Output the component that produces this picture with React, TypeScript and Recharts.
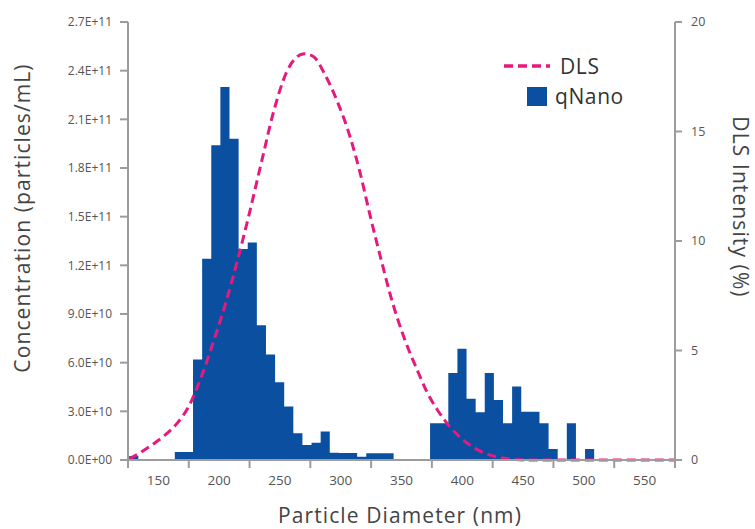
import React from 'react';
import { ComposedChart, Area, Line, XAxis, YAxis, Legend, Label } from 'recharts';

const FONT = '"Open Sans", "DejaVu Sans", sans-serif';
const BLUE = '#0b4fa1';
const PINK = '#e6197f';
const AXIS = '#9c9c9c';

const CHART_W = 755;
const CHART_H = 529;
const LEFT_W = 128;
const RIGHT_W = 80;
const PLOT_W = CHART_W - LEFT_W - RIGHT_W;

// qNano histogram: left edge of each 7.5 nm bin (last entry closes the final bin)
const binEdges = [
  126, 133.5, 141, 148.5, 156, 163.5, 171, 178.5, 186, 193.5, 201, 208.5, 216,
  223.5, 231, 238.5, 246, 253.5, 261, 268.5, 276, 283.5, 291, 298.5, 306, 313.5,
  321, 328.5, 336, 343.5, 351, 358.5, 366, 373.5, 381, 388.5, 396, 403.5, 411,
  418.5, 426, 433.5, 441, 448.5, 456, 463.5, 471, 478.5, 486, 493.5, 501, 508.5,
];

// particles/mL per bin
const qNanoConc = [
  2.5e9, 0, 0, 0, 0, 5e9, 5e9, 6.2e10, 1.24e11, 1.94e11, 2.3e11, 1.98e11, 1.3e11,
  1.34e11, 8.3e10, 6.5e10, 4.8e10, 3.3e10, 1.65e10, 9.3e9, 1.07e10, 1.75e10, 4.5e9,
  4.3e9, 4.3e9, 2e9, 4.1e9, 4.1e9, 4.1e9, 0, 0, 0, 0, 2.27e10, 2.27e10, 5.36e10,
  6.86e10, 3.77e10, 2.95e10, 5.36e10, 3.7e10, 2.27e10, 4.53e10, 2.98e10, 2.98e10,
  2.27e10, 6.8e9, 0, 2.27e10, 0, 6.8e9,
];

// DLS intensity distribution
const dlsDiameter = [
  126, 135, 145, 155, 165, 175, 185, 195, 205, 215, 225, 235, 245, 255, 262, 270,
  278, 287, 297, 308, 316, 324, 333, 341, 352, 363, 371, 380, 390, 400, 410, 420,
  430, 440, 452, 575,
];
const dlsIntensity = [
  0.05, 0.33, 0.7, 1.12, 1.65, 2.45, 3.75, 5.35, 7.1, 9.1, 11.3, 13.65, 15.95, 17.65,
  18.3, 18.55, 18.4, 17.6, 16.4, 14.7, 13.1, 11.2, 9.2, 7.5, 5.6, 4.1, 3.1, 2.25,
  1.5, 0.95, 0.55, 0.28, 0.12, 0.04, 0, 0,
];

const xTicks = [125, 175, 225, 275, 325, 375, 425, 475, 525, 575];
const concTicks = [0, 3e10, 6e10, 9e10, 1.2e11, 1.5e11, 1.8e11, 2.1e11, 2.4e11, 2.7e11];
const dlsTicks = [0, 5, 10, 15, 20];

type Row = { x: number; conc?: number; dls?: number };

const byX = new Map<number, Row>();
binEdges.forEach((e, i) => {
  byX.set(e, { x: e, conc: i < qNanoConc.length ? qNanoConc[i] : 0 });
});
dlsDiameter.forEach((d, i) => {
  const r = byX.get(d) || { x: d };
  r.dls = dlsIntensity[i];
  byX.set(d, r);
});
const data = Array.from(byX.values()).sort((a, b) => a.x - b.x);

const sci = (v: number) => {
  if (v === 0) return '0.0E+00';
  const e = Math.floor(Math.log10(v) + 1e-9);
  const m = v / Math.pow(10, e);
  return `${m.toFixed(1)}E+${String(e).padStart(2, '0')}`;
};

const titleStyle = { fontSize: 21, fill: '#444', fontFamily: FONT, letterSpacing: 1.1 };

// labels sit half-way between the tick marks
const HALF_STEP = (25 / 450) * PLOT_W;
const XTick = (props: any) => {
  const { x, y, payload } = props;
  if (payload.value >= 575) return null;
  return (
    <text x={x + HALF_STEP} y={y + 15} textAnchor="middle" fontSize={13.5} fill="#555" fontFamily={FONT}>
      {payload.value + 25}
    </text>
  );
};

const renderLegend = () => (
  <div style={{ fontFamily: FONT, fontSize: 21, color: '#333', lineHeight: '30px', letterSpacing: 0.6 }}>
    <div style={{ display: 'flex', alignItems: 'center' }}>
      <svg width={46} height={8}>
        <line x1={0} y1={4} x2={46} y2={4} stroke={PINK} strokeWidth={3.5} strokeDasharray="9 5" />
      </svg>
      <span style={{ marginLeft: 10 }}>DLS</span>
    </div>
    <div style={{ display: 'flex', alignItems: 'center' }}>
      <div style={{ width: 20, height: 19, background: BLUE, marginLeft: 23 }} />
      <span style={{ marginLeft: 8 }}>qNano</span>
    </div>
  </div>
);

export default function App() {
  return (
    <div style={{ position: 'absolute', left: 0, top: 0, width: CHART_W, height: CHART_H, background: '#fff' }}>
      <ComposedChart width={CHART_W} height={CHART_H} data={data} margin={{ top: 22, right: 0, bottom: 0, left: 0 }}>
        <XAxis
          dataKey="x"
          type="number"
          domain={[125, 575]}
          ticks={xTicks}
          height={69}
          tickSize={8}
          tick={<XTick />}
          stroke={AXIS}
          strokeWidth={2}
        >
          <Label
            content={() => (
              <text x={400} y={523} textAnchor="middle" {...titleStyle}>
                Particle Diameter (nm)
              </text>
            )}
          />
        </XAxis>
        <YAxis
          yAxisId="conc"
          domain={[0, 2.7e11]}
          ticks={concTicks}
          width={LEFT_W}
          tickSize={8}
          tickMargin={8}
          tickFormatter={sci}
          tick={{ fontSize: 12, fill: '#555', fontFamily: FONT }}
          stroke={AXIS}
          strokeWidth={2}
        >
          <Label
            content={() => (
              <text
                x={22}
                y={218}
                transform="rotate(-90 22 218)"
                textAnchor="middle"
                dominantBaseline="central"
                {...titleStyle}
              >
                Concentration (particles/mL)
              </text>
            )}
          />
        </YAxis>
        <YAxis
          yAxisId="dls"
          orientation="right"
          domain={[0, 20]}
          ticks={dlsTicks}
          width={RIGHT_W}
          tickSize={7}
          tickMargin={9}
          tick={{ fontSize: 12.5, fill: '#555', fontFamily: FONT }}
          stroke={AXIS}
          strokeWidth={2}
        >
          <Label
            content={() => (
              <text
                x={741}
                y={207}
                transform="rotate(90 741 207)"
                textAnchor="middle"
                dominantBaseline="central"
                {...titleStyle}
              >
                DLS Intensity (%)
              </text>
            )}
          />
        </YAxis>
        <Legend
          layout="vertical"
          align="center"
          verticalAlign="middle"
          content={renderLegend}
          wrapperStyle={{ position: 'absolute', left: 504, top: 51, width: 170 }}
        />
        <Area
          yAxisId="conc"
          dataKey="conc"
          name="qNano"
          type="stepAfter"
          fill={BLUE}
          fillOpacity={1}
          stroke="none"
          connectNulls
          isAnimationActive={false}
        />
        <Line
          yAxisId="dls"
          dataKey="dls"
          name="DLS"
          type="monotone"
          stroke={PINK}
          strokeWidth={3}
          strokeDasharray="9 5"
          dot={false}
          activeDot={false}
          connectNulls
          isAnimationActive={false}
        />
      </ComposedChart>
    </div>
  );
}
